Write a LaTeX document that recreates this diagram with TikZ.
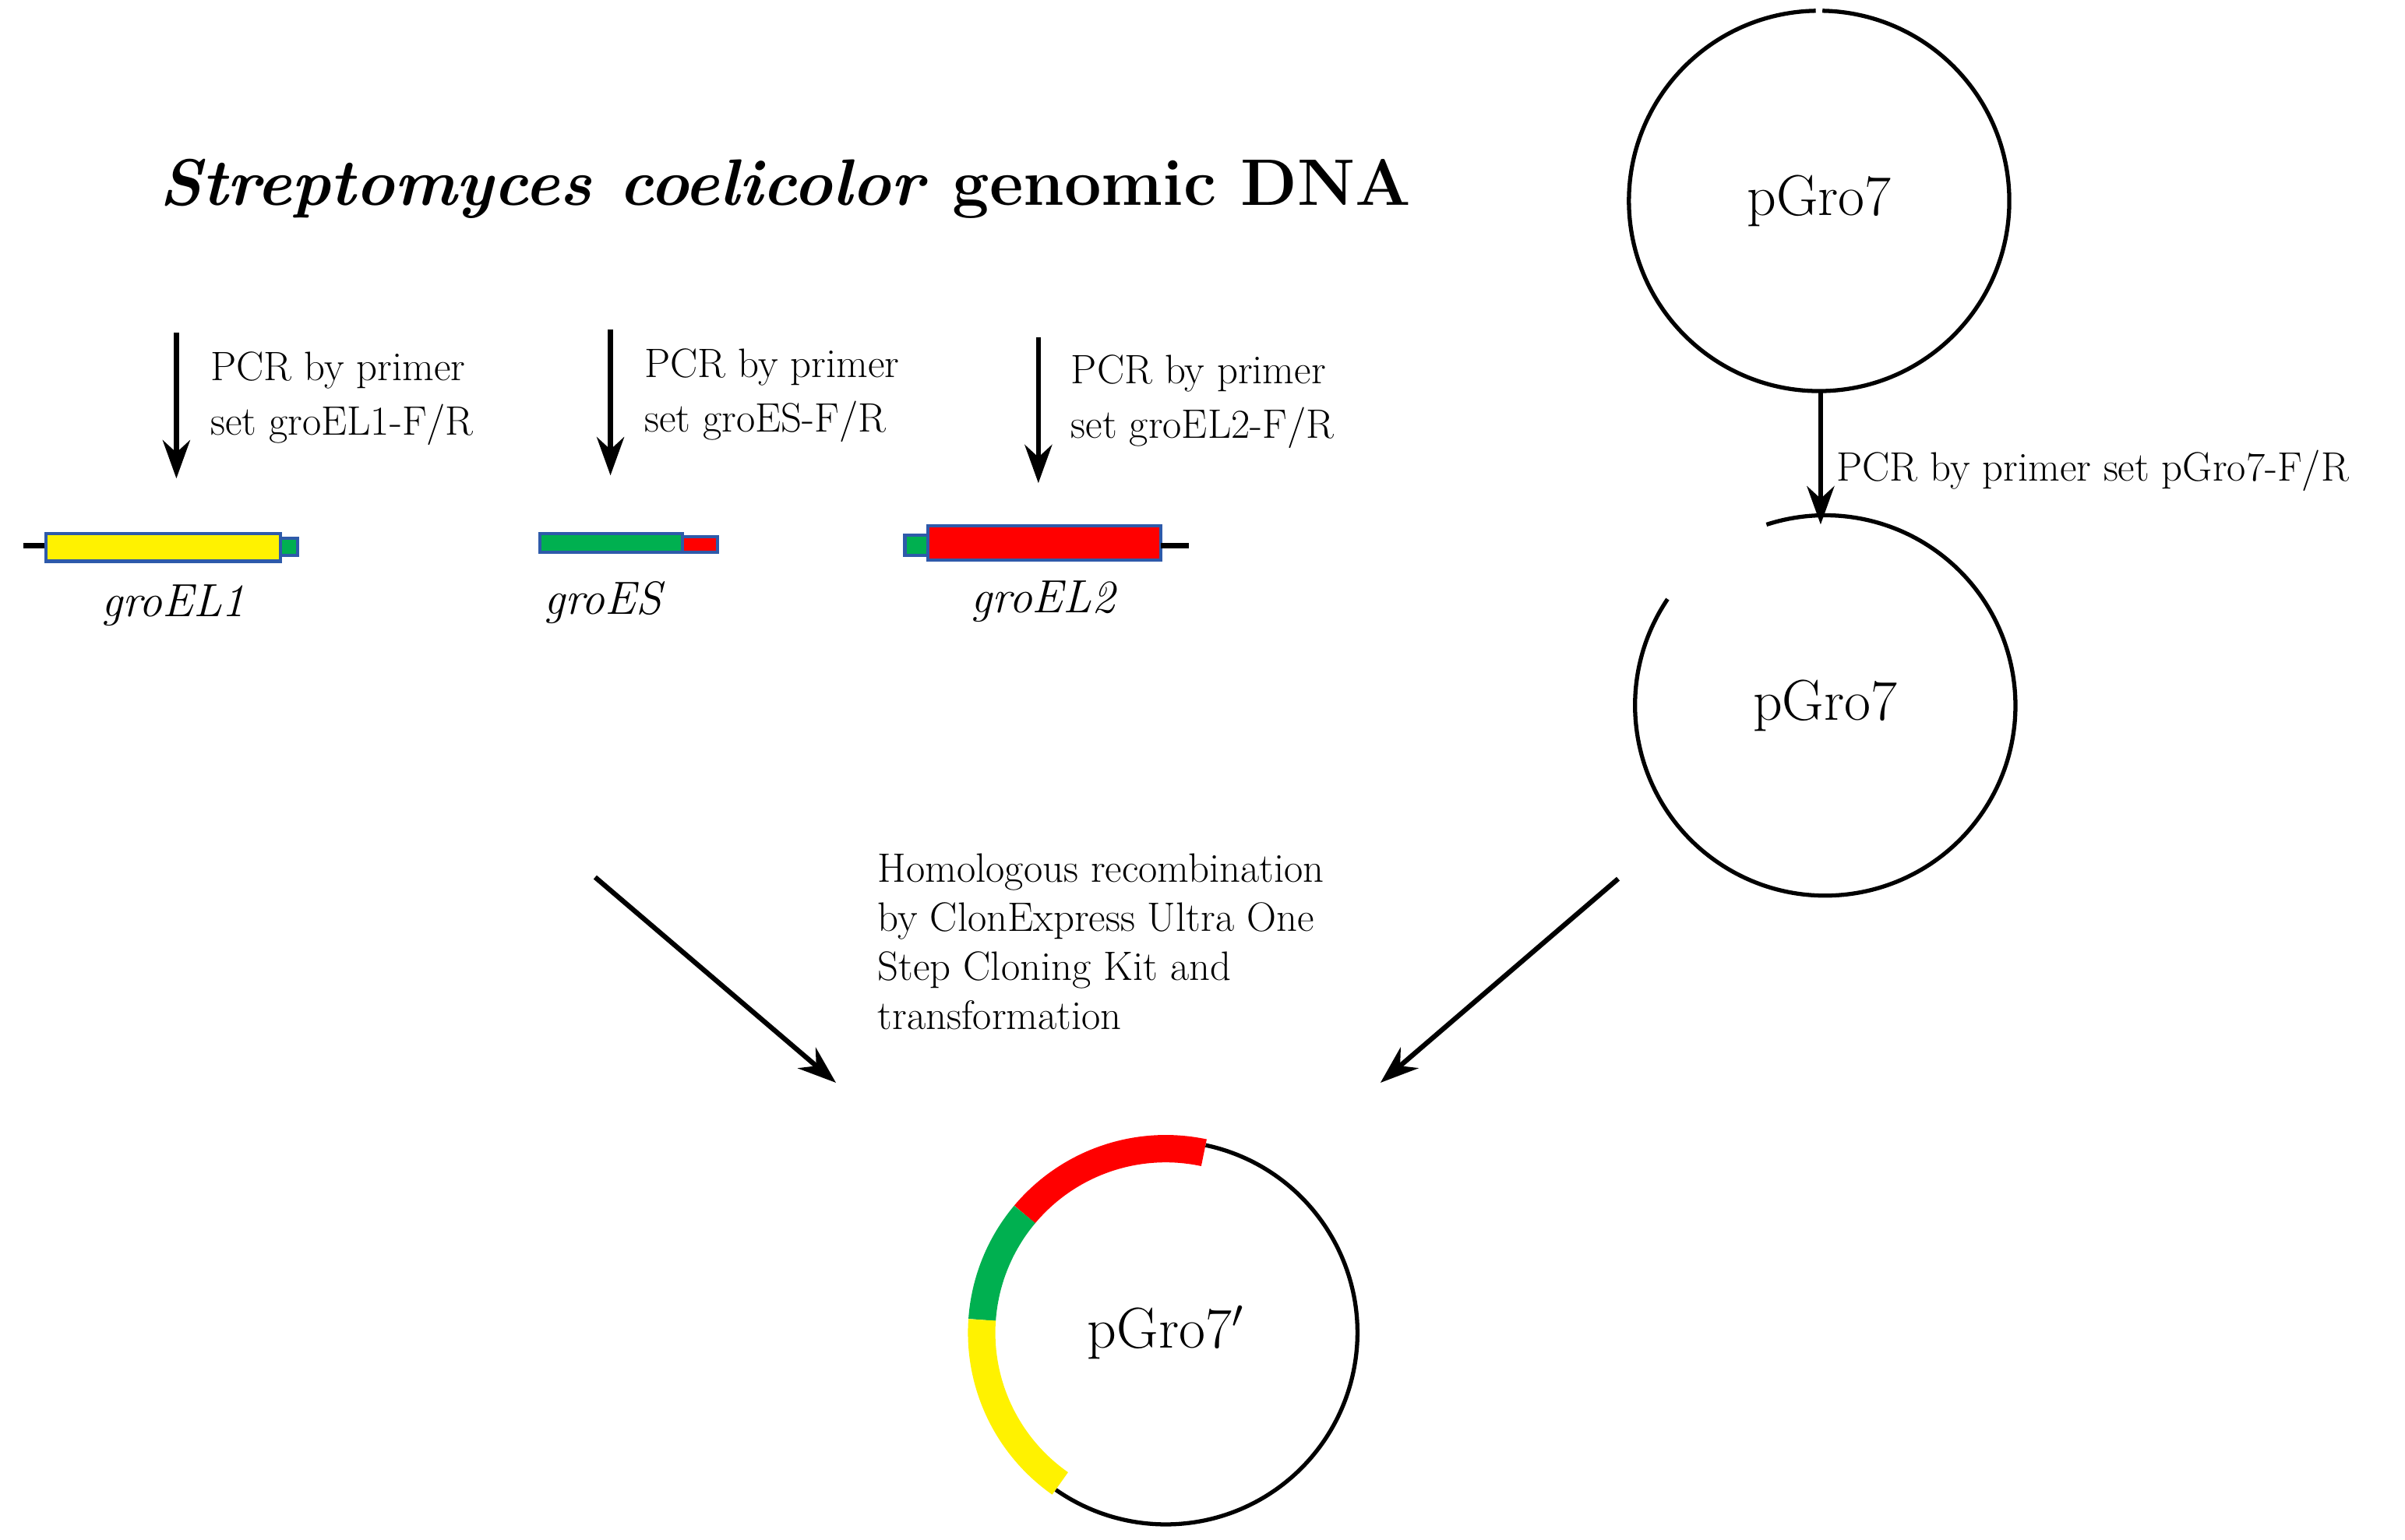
\documentclass[tikz,border=0pt]{standalone}
\usepackage{tikz}
\usetikzlibrary{arrows.meta,positioning}
\definecolor{genegreen}{RGB}{0,176,80}
\definecolor{geneblue}{RGB}{46,90,170}
\tikzset{
  flow/.style={line width=1.8pt,-{Stealth[length=14pt,width=10pt]}},
  note/.style={align=left,anchor=west,font=\fontsize{15}{20}\selectfont,inner sep=0pt},
  gene/.style={draw=geneblue,line width=1.2pt},
  plasmid/.style={line width=1.5pt},
  genename/.style={font=\fontsize{17}{18}\selectfont\itshape},
  pname/.style={font=\fontsize{21}{22}\selectfont}
}
\begin{document}
\begin{tikzpicture}[x=0.01969cm,y=0.01969cm]
            \useasboundingbox (0,0) rectangle (1568,-1004);
            \node[font=\fontsize{24}{28}\selectfont\bfseries] (title) at (512,-123) {\textit{Streptomyces coelicolor} genomic DNA};
            % PCR arrows for the three genes
            \coordinate (a1) at (115,-217); \coordinate (b1) at (115,-312);
            \coordinate (a2) at (398,-215); \coordinate (b2) at (398,-310);
            \coordinate (a3) at (677,-220); \coordinate (b3) at (677,-315);
            \draw[flow] (a1) -- (b1);
            \draw[flow] (a2) -- (b2);
            \draw[flow] (a3) -- (b3);
            \node[note] (p1) at (137,-260) {PCR by primer\\set groEL1-F/R};
            \node[note] (p2) at (420,-258) {PCR by primer\\set groES-F/R};
            \node[note] (p3) at (698,-262) {PCR by primer\\set groEL2-F/R};
            % genes
            \draw[line width=2pt] (15,-356) -- (30,-356);
            \draw[gene,fill=genegreen] (183,-351) rectangle (194,-362);
            \draw[gene,fill=yellow] (30,-348) rectangle (183,-366);
            \draw[gene,fill=genegreen] (352,-348) rectangle (445,-360);
            \draw[gene,fill=red] (445,-350) rectangle (468,-360);
            \draw[gene,fill=genegreen] (590,-349) rectangle (605,-362);
            \draw[gene,fill=red] (605,-343) rectangle (757,-365);
            \draw[line width=2pt] (757,-356) -- (775,-356);
            \node[genename] (g1) at (113,-395) {groEL1};
            \node[genename] (g2) at (393,-393) {groES};
            \node[genename] (g3) at (680,-392) {groEL2};
            % vector
            \node[pname] (v1) at (1186,-131) {pGro7};
            \draw[plasmid] (v1) ++(91:124) arc (91:449:124);
            \coordinate (c1) at (1187,-255);
            \coordinate (c2) at (1187,-342);
            \draw[flow] (c1) -- (c2);
            \node[note] (p4) at (1197,-307) {PCR by primer set pGro7-F/R};
            \node[pname] (v2) at (1190,-460) {pGro7};
            \draw[plasmid] (v2) ++(146:124) arc (146:468:124);
            % recombination
            \node[note,font=\fontsize{15}{18}\selectfont] (h) at (572,-614) {Homologous recombination\\by ClonExpress Ultra One\\Step Cloning Kit and\\transformation};
            \coordinate (d1) at (388,-572); \coordinate (e1) at (545,-706);
            \coordinate (d2) at (1055,-573); \coordinate (e2) at (900,-706);
            \draw[flow] (d1) -- (e1);
            \draw[flow] (d2) -- (e2);
            \node[pname] (v3) at (760,-869) {pGro7$'$};
            \draw[plasmid] (v3) ++(78:125) arc (78:-125:125);
            \draw[red,line width=10pt] (v3) ++(78:120) arc (78:140:120);
            \draw[genegreen,line width=10pt] (v3) ++(140:120) arc (140:176:120);
            \draw[yellow,line width=10pt] (v3) ++(176:120) arc (176:235:120);
\end{tikzpicture}
\end{document}
